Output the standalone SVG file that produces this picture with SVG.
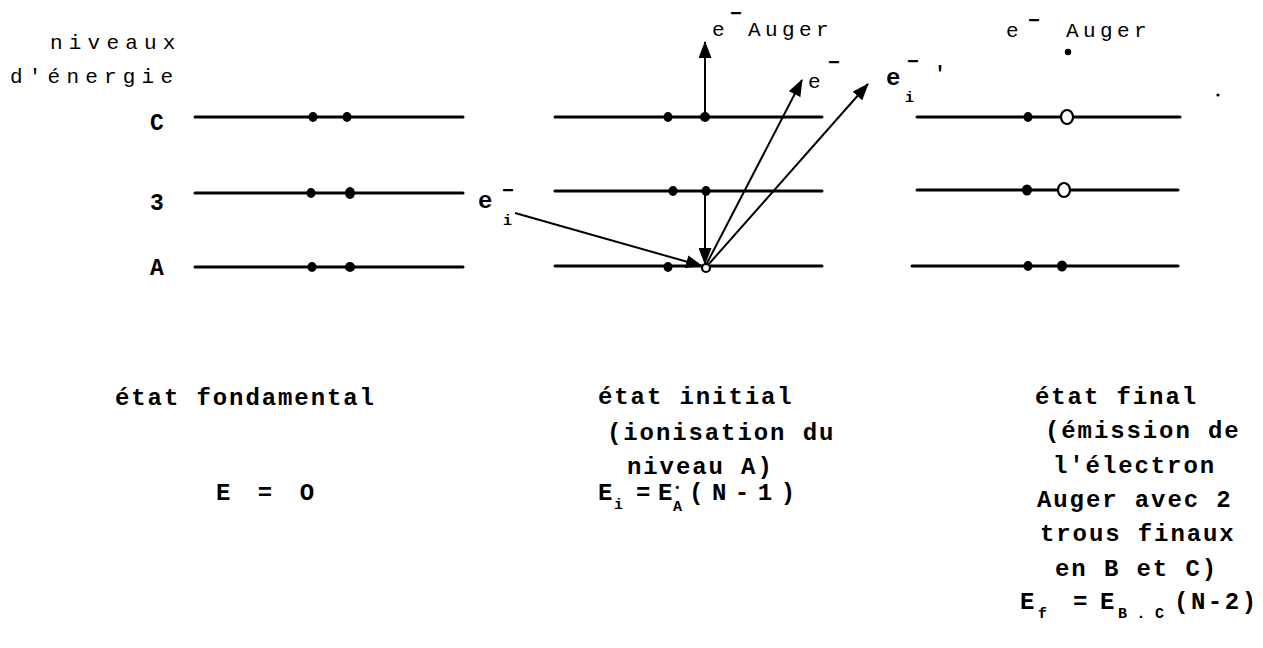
<svg xmlns="http://www.w3.org/2000/svg" width="1263" height="648" viewBox="0 0 1263 648">
<style>
.lvl{stroke:#000;stroke-width:3;stroke-linecap:round;fill:none}
.arr{stroke:#000;stroke-width:2;fill:none}
.dot{fill:#000}
.hole{fill:#fff;stroke:#000;stroke-width:2.2}
.lab{font-family:"Liberation Mono","DejaVu Sans Mono",monospace;font-size:21px;letter-spacing:6.2px;fill:#000}
.sp{font-family:"Liberation Mono","DejaVu Sans Mono",monospace;font-size:21px;letter-spacing:4.4px;fill:#000}
.bar{font-family:"Liberation Mono","DejaVu Sans Mono",monospace;font-size:20px;font-weight:bold;fill:#000}
.t{font-family:"Liberation Mono","DejaVu Sans Mono",monospace;font-size:24px;font-weight:bold;letter-spacing:1.9px;fill:#000}
.sub{font-family:"Liberation Mono","DejaVu Sans Mono",monospace;font-size:15px;font-weight:bold;fill:#000}
.sup{font-family:"Liberation Mono","DejaVu Sans Mono",monospace;font-size:11px;font-weight:bold;fill:#000}
.lvlname{font-family:"Liberation Mono","DejaVu Sans Mono",monospace;font-size:23px;font-weight:bold;fill:#000}
</style>
<defs>
<marker id="ah" markerUnits="userSpaceOnUse" markerWidth="17" markerHeight="13" refX="16" refY="6.5" orient="auto">
<path d="M0,0 L17,6.5 L0,13 z" fill="#000"/>
</marker>
</defs>
<rect width="1263" height="648" fill="#fff"/>

<g id="axis-label">
<text class="lab" x="50" y="49">niveaux</text>
<text class="lab" x="10" y="83">d'énergie</text>
<text class="lvlname" x="150" y="130">C</text>
<text class="lvlname" x="150" y="210">3</text>
<text class="lvlname" x="150" y="275">A</text>
</g>

<g id="fondamental">
<line class="lvl" x1="195" y1="117" x2="463" y2="117"/>
<line class="lvl" x1="195" y1="193" x2="463" y2="193"/>
<line class="lvl" x1="195" y1="267" x2="463" y2="267"/>
<ellipse class="dot" cx="313" cy="117" rx="4.5" ry="5"/>
<ellipse class="dot" cx="347" cy="117" rx="4.5" ry="5"/>
<ellipse class="dot" cx="311" cy="193" rx="4.5" ry="5"/>
<ellipse class="dot" cx="350" cy="193" rx="5" ry="6"/>
<ellipse class="dot" cx="312" cy="267" rx="4.5" ry="5"/>
<ellipse class="dot" cx="350" cy="267" rx="5" ry="5"/>
<text class="t" x="115" y="405">état fondamental</text>
<text class="t" x="216" y="500" textLength="100" lengthAdjust="spacing">E = O</text>
</g>

<g id="initial">
<line class="lvl" x1="555" y1="117" x2="822" y2="117"/>
<line class="lvl" x1="555" y1="191" x2="822" y2="191"/>
<line class="lvl" x1="555" y1="266" x2="822" y2="266"/>
<ellipse class="dot" cx="668" cy="117" rx="4.5" ry="5"/>
<ellipse class="dot" cx="705" cy="117" rx="5" ry="5"/>
<ellipse class="dot" cx="673" cy="191" rx="4.5" ry="5"/>
<ellipse class="dot" cx="706" cy="191" rx="4.5" ry="5"/>
<ellipse class="dot" cx="668" cy="267" rx="4.5" ry="5"/>
<ellipse class="hole" cx="706" cy="268" rx="4" ry="4"/>
<text class="t" x="598" y="404">état initial</text>
<text class="t" x="607" y="440">(ionisation du</text>
<text class="t" x="627" y="474">niveau A)</text>
<text class="t" x="598" y="500">E</text>
<text class="sub" x="614" y="509">i</text>
<text class="t" x="636" y="500">=</text>
<text class="t" x="658" y="500">E</text>
<text class="sup" x="674" y="491">•</text>
<text class="sub" x="673" y="511">A</text>
<text class="t" x="689" y="500" textLength="108" lengthAdjust="spacing">(N-1)</text>
</g>

<g id="final">
<line class="lvl" x1="917" y1="117" x2="1180" y2="117"/>
<line class="lvl" x1="917" y1="190" x2="1178" y2="190"/>
<line class="lvl" x1="912" y1="266" x2="1178" y2="266"/>
<ellipse class="dot" cx="1028" cy="117" rx="4.5" ry="5"/>
<ellipse class="hole" cx="1067" cy="117" rx="6" ry="7"/>
<ellipse class="dot" cx="1027" cy="190" rx="5" ry="5.5"/>
<ellipse class="hole" cx="1064" cy="190" rx="6" ry="7"/>
<ellipse class="dot" cx="1028" cy="266" rx="4.5" ry="5"/>
<ellipse class="dot" cx="1062" cy="266" rx="5" ry="5.5"/>
<text class="sp" x="1006" y="37">e</text>
<text class="bar" x="1028" y="27">−</text>
<text class="sp" x="1066" y="37">Auger</text>
<circle class="dot" cx="1068" cy="52" r="3.2"/>
<circle class="dot" cx="1218" cy="95" r="1.6"/>
<text class="t" x="1035" y="404">état final</text>
<text class="t" x="1045" y="438">(émission de</text>
<text class="t" x="1053" y="473">l'électron</text>
<text class="t" x="1037" y="507">Auger avec 2</text>
<text class="t" x="1040" y="541">trous finaux</text>
<text class="t" x="1055" y="576">en B et C)</text>
<text class="t" x="1020" y="609">E</text>
<text class="sub" x="1038" y="618">f</text>
<text class="t" x="1073" y="609">=</text>
<text class="t" x="1100" y="609">E</text>
<text class="sub" x="1118" y="618" textLength="46" lengthAdjust="spacing">B.C</text>
<text class="t" x="1174" y="609" textLength="84" lengthAdjust="spacing">(N-2)</text>
</g>

<g id="electron-labels">
<text class="sp" x="712" y="36">e</text>
<text class="bar" x="730" y="20">−</text>
<text class="sp" x="748" y="36">Auger</text>
<text class="sp" x="808" y="88">e</text>
<text class="bar" x="828" y="69">−</text>
<text class="t" x="478" y="208">e</text>
<text class="sub" x="503" y="225">i</text>
<text class="bar" x="502" y="197">−</text>
<text class="t" x="886" y="85">e</text>
<text class="sub" x="905" y="102">i</text>
<text class="bar" x="907" y="68">−</text>
<text class="bar" x="934" y="80">'</text>
</g>

<g id="connectors">
<line class="arr" x1="705" y1="117" x2="705" y2="42" marker-end="url(#ah)"/>
<line class="arr" x1="705" y1="191" x2="705" y2="264" marker-end="url(#ah)"/>
<line class="arr" x1="515" y1="213" x2="702" y2="266" stroke-width="2.6" marker-end="url(#ah)"/>
<line class="arr" x1="706" y1="265" x2="802" y2="80" marker-end="url(#ah)"/>
<line class="arr" x1="708" y1="265" x2="868" y2="84" marker-end="url(#ah)"/>
</g>
</svg>
